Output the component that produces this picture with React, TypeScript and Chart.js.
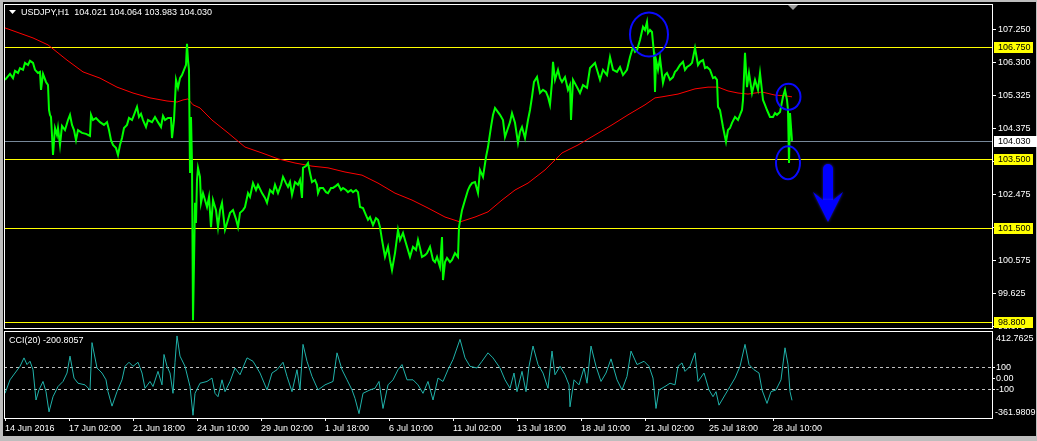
import React, { useEffect, useRef } from 'react';
import { Chart, registerables } from 'chart.js';

Chart.register(...registerables);

const FONT_FAMILY = '"Liberation Sans", Arial, sans-serif';

// ---- header / titles ----
const headerText = 'USDJPY,H1  104.021 104.064 103.983 104.030';
const cciTitle = 'CCI(20) -200.8057';

// ---- time axis (bar index, 1 bar = 1 hour) ----
const timeTickBars = [0, 64, 128, 192, 256, 320, 384, 448, 512, 576, 640, 704, 768];
const timeLabels = [
  '14 Jun 2016', '17 Jun 02:00', '21 Jun 18:00', '24 Jun 10:00', '29 Jun 02:00',
  '1 Jul 18:00', '6 Jul 10:00', '11 Jul 02:00', '13 Jul 18:00', '18 Jul 10:00',
  '21 Jul 02:00', '25 Jul 18:00', '28 Jul 10:00',
];
const lastBar = 987;
const chartShiftBar = 788;

// ---- price axis ----
const priceTicks = [107.25, 106.3, 105.325, 104.375, 103.425, 102.475, 101.525, 100.575, 99.625, 98.675];
const priceMax = 107.98;
const priceMin = 98.627;
const levelLines = [106.75, 103.5, 101.5, 98.8];
const bidPrice = 104.03;

// ---- USDJPY H1 close ----
const priceBars = [
  0, 5, 8, 10, 13, 15, 18, 20, 23, 25, 28, 30, 33, 35, 36, 38, 41, 43, 44, 45, 46, 47, 48, 50, 52, 53, 55, 57, 60, 63,
  65, 67, 69, 71, 73, 77, 81, 85, 86, 88, 91, 95, 99, 102, 104, 106, 108, 111, 113, 115, 117, 119, 122, 124, 127, 129,
  132, 134, 136, 138, 141, 143, 147, 150, 153, 156, 158, 160, 163, 166, 167, 169, 171, 173, 175, 177, 179, 181, 182,
  183, 184, 185, 186, 187, 188, 189, 190, 191, 192, 193, 195, 196, 198, 200, 202, 204, 206, 208, 211, 213, 215, 217,
  220, 223, 225, 228, 231, 233, 235, 238, 240, 243, 245, 248, 251, 253, 257, 260, 262, 265, 268, 270, 273, 276, 278,
  281, 283, 285, 287, 290, 293, 295, 297, 298, 301, 303, 305, 307, 310, 312, 313, 315, 318, 321, 323, 326, 328, 331,
  333, 336, 338, 341, 343, 346, 348, 351, 353, 355, 358, 360, 363, 365, 368, 371, 373, 375, 377, 380, 383, 385, 387,
  390, 393, 395, 398, 400, 402, 405, 408, 411, 413, 415, 417, 420, 422, 425, 428, 430, 432, 435, 437, 438, 440, 442,
  445, 447, 450, 453, 454, 457, 460, 463, 465, 467, 470, 473, 475, 478, 481, 483, 486, 488, 490, 493, 495, 498, 500,
  503, 505, 507, 510, 513, 515, 517, 520, 523, 525, 527, 529, 532, 535, 538, 541, 543, 545, 547, 548, 550, 553, 555,
  557, 560, 563, 565, 566, 568, 572, 575, 578, 582, 585, 588, 590, 592, 595, 598, 602, 605, 608, 612, 615, 618, 622,
  625, 628, 630, 632, 635, 638, 640, 642, 643, 645, 647, 648, 649, 650, 651, 653, 655, 658, 660, 662, 665, 668, 670,
  672, 675, 678, 680, 682, 685, 687, 690, 693, 695, 698, 700, 702, 705, 708, 710, 712, 713, 715, 718, 721, 723, 725,
  727, 730, 733, 735, 737, 738, 740, 742, 744, 747, 750, 753, 755, 758, 760, 762, 765, 768, 770, 772, 775, 778, 780,
  782, 783, 784, 785, 786, 787,
];
const priceClose = [
  105.79, 105.96, 105.84, 106.05, 105.99, 106.13, 106.08, 106.28, 106.22, 106.34, 106.28, 106.08, 105.99, 106.02, 105.5,
  105.96, 105.73, 105.64, 104.92, 104.78, 104.72, 104.2, 103.62, 104.4, 104.2, 104.4, 103.91, 104.46, 104.34, 104.63,
  104.78, 104.49, 104.34, 104.05, 104.34, 104.26, 104.23, 104.17, 104.78, 104.63, 104.69, 104.57, 104.49, 104.57,
  104.34, 104.05, 103.91, 103.82, 103.62, 103.91, 104.11, 104.4, 104.49, 104.69, 104.63, 104.78, 105.01, 104.72,
  104.81, 104.63, 104.43, 104.63, 104.57, 104.72, 104.57, 104.43, 104.75, 104.63, 104.69, 104.69, 104.11, 104.63,
  105.79, 105.56, 105.84, 105.93, 106.08, 106.22, 106.83, 106.36, 106.08, 103.1, 104.72, 103.39, 98.85, 100.5,
  102.24, 101.66, 102.9, 103.25, 102.99, 102.24, 102.52, 102.32, 102.12, 102.41, 101.54, 102.32, 102.03, 101.54,
  102.03, 102.24, 101.46, 101.75, 101.95, 102.03, 101.77, 101.54, 101.95, 102.03, 102.12, 102.52, 102.41, 102.81,
  102.61, 102.76, 102.52, 102.38, 102.24, 102.61, 102.52, 102.76, 102.52, 102.76, 102.99, 102.81, 102.7, 102.84,
  102.47, 102.84, 102.76, 102.9, 102.38, 103.25, 103.3, 103.39, 103.1, 102.84, 102.9, 102.76, 102.52, 102.67,
  102.67, 102.55, 102.52, 102.67, 102.67, 102.73, 102.78, 102.61, 102.67, 102.61, 102.55, 102.61, 102.55, 102.61,
  102.55, 102.12, 102.09, 101.95, 101.75, 101.83, 101.6, 101.8, 101.75, 101.54, 101.17, 100.68, 100.97, 100.59,
  100.3, 100.79, 101.46, 101.17, 101.37, 101.17, 100.97, 100.68, 100.97, 100.88, 101.17, 100.94, 100.68, 100.73,
  100.79, 100.97, 100.59, 100.53, 100.68, 100.39, 101.25, 100.01, 100.53, 100.65, 100.53, 100.59, 100.79, 100.68,
  101.54, 102.03, 102.32, 102.61, 102.73, 102.81, 102.84, 102.52, 103.19, 102.99, 103.56, 103.85, 104.43, 104.78,
  104.98, 104.86, 104.78, 104.63, 104.14, 104.4, 104.57, 104.83, 104.55, 103.97, 104.29, 104.43, 104.11, 104.63,
  104.92, 105.3, 105.73, 105.87, 105.41, 105.5, 105.44, 105.3, 105.07, 105.73, 106.31, 105.79, 106.08, 105.84,
  105.73, 105.87, 105.5, 105.64, 104.63, 105.79, 105.58, 105.41, 105.64, 105.56, 106.13, 106.22, 106.28, 106.08,
  105.79, 106.08, 105.93, 106.45, 106.08, 106.02, 106.16, 105.93, 106.08, 106.45, 106.74, 106.6, 106.65, 106.94,
  107.32, 107.23, 107.46, 107.14, 107.23, 107.17, 106.86, 106.57, 105.44, 106.36, 106.08, 106.42, 105.7, 105.93,
  105.99, 105.79, 105.87, 106.02, 106.08, 106.22, 106.31, 106.08, 106.16, 106.22, 106.28, 106.71, 106.22, 106.31,
  106.36, 106.13, 106.16, 106.08, 105.84, 105.87, 105.79, 105.01, 104.92, 104.43, 104.0, 104.34, 104.4, 104.55,
  104.72, 104.63, 104.78, 104.92, 105.21, 106.57, 105.58, 105.99, 105.41, 105.79, 105.5, 105.99, 105.21, 105.07,
  104.92, 104.72, 104.72, 104.83, 104.78, 104.86, 105.3, 105.5, 105.21, 104.92, 103.39, 104.83, 104.43, 104.03,
];

// ---- moving average (red) ----
const maBars = [
  0, 28, 43, 62, 78, 95, 112, 128, 145, 162, 172, 178, 183, 188, 195, 207, 223, 240, 257, 273, 290, 307, 323, 340,
  357, 373, 390, 407, 423, 440, 455, 470, 483, 497, 510, 523, 540, 557, 573, 590, 607, 623, 640, 650, 657, 673, 690,
  703, 713, 723, 733, 743, 757, 770, 780, 787,
];
const maValues = [
  107.29, 107.0, 106.8, 106.36, 106.02, 105.84, 105.58, 105.41, 105.27, 105.18, 105.15, 105.21, 105.24, 105.07,
  104.98, 104.63, 104.26, 103.85, 103.68, 103.51, 103.39, 103.3, 103.25, 103.13, 103.04, 102.81, 102.52, 102.32,
  102.09, 101.83, 101.69, 101.83, 101.98, 102.32, 102.61, 102.81, 103.19, 103.68, 103.91, 104.2, 104.49, 104.78,
  105.07, 105.27, 105.3, 105.38, 105.53, 105.58, 105.58, 105.47, 105.41, 105.38, 105.44, 105.35, 105.33, 105.3,
];

// ---- CCI(20) ----
const cciBars = [
  0, 5, 10, 15, 19, 22, 25, 28, 31, 34, 38, 41, 44, 48, 53, 58, 62, 65, 69, 73, 80, 85, 87, 92, 97, 101, 103, 107,
  112, 117, 120, 124, 128, 133, 137, 140, 145, 148, 153, 157, 159, 162, 165, 168, 170, 172, 175, 180, 185, 188, 190,
  195, 202, 207, 210, 213, 217, 220, 225, 230, 235, 242, 248, 255, 262, 267, 272, 278, 282, 287, 292, 295, 298, 302,
  307, 313, 320, 328, 332, 337, 342, 347, 350, 354, 358, 365, 370, 374, 378, 383, 388, 393, 397, 402, 408, 413, 418,
  423, 428, 433, 438, 443, 448, 455, 460, 465, 472, 477, 483, 488, 495, 500, 505, 509, 512, 517, 521, 524, 528, 533,
  538, 543, 547, 550, 555, 560, 564, 565, 569, 574, 579, 582, 586, 591, 596, 601, 606, 612, 617, 622, 626, 632, 639,
  644, 648, 651, 654, 660, 665, 670, 673, 677, 680, 685, 690, 693, 699, 704, 708, 711, 714, 720, 725, 730, 735, 740,
  744, 749, 754, 757, 762, 766, 771, 776, 780, 783, 785, 787,
];
const cciValues = [
  -137, -14, 48, 109, 186, 125, 155, 78, -198, -106, -29, -122, -306, -168, -75, -29, 48, 202, 2, -45, -60, -106, 325,
  94, 48, -14, -122, -254, -122, -14, 109, 146, 109, 146, 48, -91, -29, -75, 63, -60, 217, 109, 48, -137, 146, 386,
  202, 109, -75, -337, -137, -45, -29, 2, -137, -168, -14, -122, -29, 94, 32, 186, 155, 48, -106, 48, 78, 146, 17,
  -122, 78, -106, 309, 155, 17, -106, -60, -29, 232, 78, -14, -106, -183, -322, -137, -106, -91, -29, -275, -60, -14,
  78, 125, -14, -14, -60, -137, -29, -198, 2, -29, 78, 171, 355, 186, 109, 94, 155, 232, 186, 94, -14, -91, 48, -122,
  63, -122, 109, 294, 125, 48, -91, 248, 32, 109, 32, -60, -260, -14, -60, 94, -45, 294, 109, -29, 48, 177, -14, -106,
  17, 248, 125, 155, 109, 2, -275, -106, -75, -45, -60, 109, 140, 63, 109, 232, -29, 48, -106, -168, -122, -245, -152,
  -75, 2, 109, 309, 125, 78, 48, -106, -229, -122, -106, -14, 278, 125, -122, -201,
];
const cciTicks = [100, 0, -100];
const cciLevels = [100, -100];
const cciMaxValue = 412.7625;
const cciMinValue = -361.9809;
const cciAxisMax = 431;

// ---- chart annotations (blue) ----
const circleMarks = [
  { bar: 644, price: 107.1, rx: 19, ry: 22 },
  { bar: 783.5, price: 105.3, rx: 12, ry: 13 },
  { bar: 783, price: 103.4, rx: 12, ry: 16.5 },
];
const arrowMark = { bar: 823, fromPrice: 103.36, toPrice: 101.69 };

const font9 = { family: FONT_FAMILY, size: 9 };

function toPoints(xs: number[], ys: number[]) {
  return xs.map((b, i) => ({ x: b, y: ys[i] }));
}

const mainDecor = {
  id: 'mainDecor',
  beforeDatasetsDraw(chart: any) {
    const { ctx, chartArea: a, scales } = chart;
    const y = scales.y;
    ctx.save();
    ctx.lineWidth = 1;
    ctx.strokeStyle = '#ffff00';
    levelLines.forEach((p) => {
      const py = Math.round(y.getPixelForValue(p)) + 0.5;
      ctx.beginPath();
      ctx.moveTo(a.left, py);
      ctx.lineTo(a.right, py);
      ctx.stroke();
    });
    ctx.strokeStyle = '#778899';
    const by = Math.round(y.getPixelForValue(bidPrice)) + 0.5;
    ctx.beginPath();
    ctx.moveTo(a.left, by);
    ctx.lineTo(a.right, by);
    ctx.stroke();
    ctx.restore();
  },
  afterDatasetsDraw(chart: any) {
    const { ctx, scales } = chart;
    const x = scales.x;
    const y = scales.y;
    ctx.save();
    ctx.strokeStyle = '#0a0aff';
    ctx.lineWidth = 2;
    circleMarks.forEach((c) => {
      ctx.beginPath();
      ctx.ellipse(x.getPixelForValue(c.bar), y.getPixelForValue(c.price), c.rx, c.ry, 0, 0, Math.PI * 2);
      ctx.stroke();
    });
    const ax = x.getPixelForValue(arrowMark.bar);
    const top = y.getPixelForValue(arrowMark.fromPrice);
    const tip = y.getPixelForValue(arrowMark.toPrice);
    const headLen = 30, headHalf = 15, shaftHalf = 5, notch = 8;
    const baseY = tip - headLen;
    ctx.fillStyle = '#0000ff';
    ctx.shadowColor = 'rgba(60,60,255,0.6)';
    ctx.shadowBlur = 3;
    ctx.beginPath();
    ctx.moveTo(ax - shaftHalf, baseY + notch);
    ctx.lineTo(ax - shaftHalf, top + shaftHalf);
    ctx.arc(ax, top + shaftHalf, shaftHalf, Math.PI, 0);
    ctx.lineTo(ax + shaftHalf, baseY + notch);
    ctx.closePath();
    ctx.fill();
    ctx.beginPath();
    ctx.moveTo(ax, tip);
    ctx.lineTo(ax - headHalf, baseY);
    ctx.lineTo(ax - shaftHalf, baseY + notch);
    ctx.lineTo(ax + shaftHalf, baseY + notch);
    ctx.lineTo(ax + headHalf, baseY);
    ctx.closePath();
    ctx.fill();
    ctx.restore();
  },
  afterDraw(chart: any) {
    const { ctx, chartArea: a, scales } = chart;
    const x = scales.x;
    const y = scales.y;
    ctx.save();
    ctx.strokeStyle = '#ffffff';
    ctx.lineWidth = 1;
    ctx.strokeRect(a.left + 0.5, a.top + 0.5, a.right - a.left, a.bottom - a.top);

    ctx.font = `9px ${FONT_FAMILY}`;
    ctx.textBaseline = 'middle';
    ctx.textAlign = 'left';
    levelLines.forEach((p) => {
      const py = Math.round(y.getPixelForValue(p));
      ctx.fillStyle = '#ffff00';
      ctx.fillRect(a.right + 2, py - 5, 39, 11);
      ctx.fillStyle = '#000000';
      ctx.fillText(p.toFixed(3), a.right + 6, py + 0.5);
    });
    const by = Math.round(y.getPixelForValue(bidPrice));
    ctx.fillStyle = '#ffffff';
    ctx.fillRect(a.right + 2, by - 5, 43, 11);
    ctx.fillStyle = '#000000';
    ctx.fillText(bidPrice.toFixed(3), a.right + 6, by + 0.5);

    // header
    ctx.fillStyle = '#ffffff';
    ctx.beginPath();
    ctx.moveTo(a.left + 5, 10);
    ctx.lineTo(a.left + 12, 10);
    ctx.lineTo(a.left + 8.5, 14);
    ctx.closePath();
    ctx.fill();
    ctx.fillText(headerText, a.left + 17, 13);

    // chart shift marker
    const sx = x.getPixelForValue(chartShiftBar);
    ctx.fillStyle = '#9a9a9a';
    ctx.beginPath();
    ctx.moveTo(sx - 5, a.top + 1);
    ctx.lineTo(sx + 5, a.top + 1);
    ctx.lineTo(sx, a.top + 6);
    ctx.closePath();
    ctx.fill();
    ctx.restore();
  },
};

const cciDecor = {
  id: 'cciDecor',
  beforeDatasetsDraw(chart: any) {
    const { ctx, chartArea: a, scales } = chart;
    const y = scales.y;
    ctx.save();
    ctx.strokeStyle = '#c0c0c0';
    ctx.lineWidth = 1;
    ctx.setLineDash([3, 3]);
    cciLevels.forEach((v) => {
      const py = Math.round(y.getPixelForValue(v)) + 0.5;
      ctx.beginPath();
      ctx.moveTo(a.left, py);
      ctx.lineTo(a.right, py);
      ctx.stroke();
    });
    ctx.restore();
  },
  afterDraw(chart: any) {
    const { ctx, chartArea: a, scales } = chart;
    const y = scales.y;
    ctx.save();
    ctx.strokeStyle = '#ffffff';
    ctx.lineWidth = 1;
    ctx.strokeRect(a.left + 0.5, a.top + 0.5, a.right - a.left, a.bottom - a.top);
    ctx.font = `9px ${FONT_FAMILY}`;
    ctx.textBaseline = 'middle';
    ctx.textAlign = 'left';
    ctx.fillStyle = '#ffffff';
    ctx.fillText(cciTitle, a.left + 5, a.top + 10);
    ctx.fillText(cciMaxValue.toFixed(4), a.right + 4, y.getPixelForValue(cciMaxValue) + 6);
    ctx.fillText(cciMinValue.toFixed(4), a.right + 3, y.getPixelForValue(cciMinValue) - 5);
    ctx.restore();
  },
};

export default function App() {
  const mainRef = useRef<HTMLCanvasElement>(null);
  const cciRef = useRef<HTMLCanvasElement>(null);

  useEffect(() => {
    document.body.style.margin = '0';
    const main = new Chart(mainRef.current as HTMLCanvasElement, {
      type: 'line',
      data: {
        datasets: [
          {
            data: toPoints(priceBars, priceClose),
            borderColor: '#00ff00',
            borderWidth: 2,
            pointRadius: 0,
            tension: 0,
          },
          {
            data: toPoints(maBars, maValues),
            borderColor: '#ff0000',
            borderWidth: 1,
            pointRadius: 0,
            tension: 0,
          },
        ],
      },
      options: {
        animation: false,
        responsive: false,
        events: [],
        layout: { padding: { left: 4, top: 4, right: 0, bottom: 2 } },
        plugins: { legend: { display: false }, tooltip: { enabled: false } },
        scales: {
          x: { type: 'linear', min: -1, max: lastBar, display: false },
          y: {
            position: 'right',
            min: priceMin,
            max: priceMax,
            afterFit: (s: any) => {
              s.width = 45;
              s.paddingTop = 0;
              s.paddingBottom = 0;
            },
            afterBuildTicks: (s: any) => {
              s.ticks = priceTicks.map((v) => ({ value: v }));
            },
            ticks: {
              color: '#ffffff',
              font: font9,
              padding: 2,
              autoSkip: false,
              callback: (v: any) => Number(v).toFixed(3),
            },
            grid: { drawOnChartArea: false, drawTicks: true, tickLength: 4, color: '#ffffff' },
            border: { display: false },
          },
        },
      },
      plugins: [mainDecor],
    } as any);

    const cci = new Chart(cciRef.current as HTMLCanvasElement, {
      type: 'line',
      data: {
        datasets: [
          {
            data: toPoints(cciBars, cciValues),
            borderColor: '#20b2aa',
            borderWidth: 1,
            pointRadius: 0,
            tension: 0,
          },
        ],
      },
      options: {
        animation: false,
        responsive: false,
        events: [],
        layout: { padding: { left: 4, top: 1, right: 0, bottom: 0 } },
        plugins: { legend: { display: false }, tooltip: { enabled: false } },
        scales: {
          x: {
            type: 'linear',
            min: -1,
            max: lastBar,
            afterFit: (s: any) => {
              s.height = 23;
              s.paddingLeft = 0;
              s.paddingRight = 0;
            },
            afterBuildTicks: (s: any) => {
              s.ticks = timeTickBars.map((v) => ({ value: v }));
            },
            ticks: {
              color: '#ffffff',
              font: font9,
              autoSkip: false,
              maxRotation: 0,
              minRotation: 0,
              align: 'start',
              padding: 2,
              callback: (v: any) => {
                const i = timeTickBars.indexOf(Number(v));
                return i >= 0 ? timeLabels[i] : '';
              },
            },
            grid: { drawOnChartArea: false, drawTicks: true, tickLength: 3, color: '#ffffff' },
            border: { display: false },
          },
          y: {
            position: 'right',
            min: cciMinValue,
            max: cciAxisMax,
            afterFit: (s: any) => {
              s.width = 45;
              s.paddingTop = 0;
              s.paddingBottom = 0;
            },
            afterBuildTicks: (s: any) => {
              s.ticks = cciTicks.map((v) => ({ value: v }));
            },
            ticks: {
              color: '#ffffff',
              font: font9,
              padding: 1,
              autoSkip: false,
              callback: (v: any) => (Number(v) === 0 ? '0.00' : String(v)),
            },
            grid: { drawOnChartArea: false, drawTicks: true, tickLength: 3, color: '#ffffff' },
            border: { display: false },
          },
        },
      },
      plugins: [cciDecor],
    } as any);

    return () => {
      main.destroy();
      cci.destroy();
    };
  }, []);

  return (
    <div
      style={{
        position: 'fixed',
        left: 0,
        top: 0,
        width: 1037,
        height: 441,
        background: '#bdbdbd',
        overflow: 'hidden',
      }}
    >
      <div style={{ position: 'absolute', left: 3, top: 2, width: 1033, height: 434, background: '#000000' }} />
      <canvas
        ref={mainRef}
        width={1037}
        height={330}
        style={{ position: 'absolute', left: 0, top: 0, width: 1037, height: 330, display: 'block' }}
      />
      <canvas
        ref={cciRef}
        width={1037}
        height={111}
        style={{ position: 'absolute', left: 0, top: 330, width: 1037, height: 111, display: 'block' }}
      />
    </div>
  );
}
